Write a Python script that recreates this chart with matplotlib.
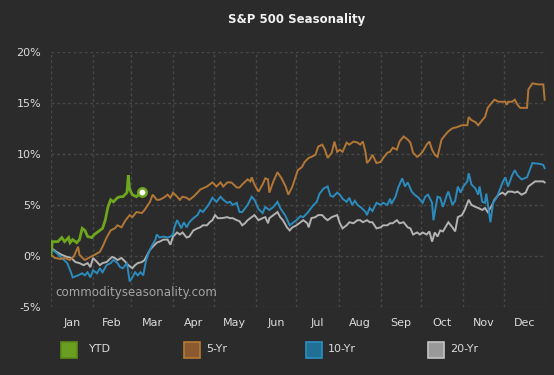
import matplotlib
matplotlib.use("Agg")
import matplotlib.pyplot as plt
from matplotlib.patches import Rectangle

# ---------------- data (day of year, % change) ----------------
months = ["Jan", "Feb", "Mar", "Apr", "May", "Jun", "Jul", "Aug", "Sep", "Oct", "Nov", "Dec"]
month_starts = [0, 31, 59, 90, 120, 151, 181, 212, 243, 273, 304, 334, 365]
yticks = [-5, 0, 5, 10, 15, 20]

ytd_days = [0, 1, 5, 8, 10, 13, 14, 16, 19, 21, 23, 25, 27, 30, 32, 35, 38, 40, 42, 44,
            46, 49, 51, 53, 56, 57, 58, 60, 63, 66, 67]
ytd_vals = [0.1, 1.4, 1.4, 1.8, 1.4, 1.8, 1.3, 1.6, 1.3, 1.6, 2.7, 2.5, 1.9, 1.8, 2.1, 2.4, 2.7, 3.5, 4.8, 5.5,
            5.3, 5.7, 5.8, 5.8, 6.2, 7.9, 6.5, 6.0, 5.8, 6.2, 6.3]

y5_days = [0, 3, 7, 10, 14, 17, 20, 21, 25, 29, 32, 36, 38, 41, 44, 47, 49, 52, 55, 58,
           60, 63, 67, 69, 73, 75, 78, 80, 83, 86, 88, 90, 93, 95, 97, 100, 102, 105, 108, 110,
           115, 119, 122, 125, 127, 130, 133, 137, 139, 141, 145, 147, 148, 150, 153, 156, 158, 160, 161, 164,
           167, 170, 173, 175, 178, 180, 182, 185, 187, 190, 192, 195, 197, 200, 202, 204, 207, 209, 211, 213,
           215, 218, 220, 223, 226, 228, 230, 232, 233, 235, 237, 240, 243, 245, 248, 250, 252, 255, 257, 260,
           263, 265, 267, 270, 272, 274, 277, 279, 281, 283, 285, 288, 291, 293, 296, 299, 303, 307, 308, 310,
           313, 315, 318, 320, 322, 325, 327, 330, 333, 335, 336, 337, 340, 342, 344, 346, 351, 352, 355, 359,
           363, 364]
y5_vals = [0.1, -0.2, -0.3, -0.2, -0.4, 0.0, 0.9, 0.1, -0.4, -0.1, 0.1, 0.4, 0.9, 1.8, 2.5, 2.7, 3.0, 2.8, 3.5, 4.0,
           3.8, 4.3, 4.2, 4.5, 5.3, 6.0, 5.5, 5.5, 5.7, 6.0, 5.7, 6.2, 5.8, 5.5, 5.8, 5.7, 5.5, 5.8, 6.2, 6.5,
           6.8, 7.2, 6.8, 7.2, 6.8, 7.2, 7.2, 6.7, 6.7, 7.0, 7.5, 7.3, 7.7, 7.0, 6.3, 7.0, 7.6, 7.5, 6.2, 7.3,
           8.2, 7.6, 6.8, 6.0, 6.8, 7.6, 8.4, 8.7, 9.2, 9.6, 9.7, 9.9, 10.7, 10.9, 10.4, 9.6, 10.1, 11.2, 10.2, 10.4,
           10.2, 11.1, 10.9, 11.2, 11.1, 10.9, 11.2, 10.1, 9.1, 9.4, 9.9, 9.1, 9.2, 9.6, 10.1, 10.2, 10.6, 10.4, 11.2, 11.7,
           11.4, 11.1, 10.1, 9.7, 9.9, 10.2, 10.9, 11.2, 10.4, 9.9, 9.7, 11.4, 11.9, 12.2, 12.5, 12.6, 12.8, 12.8, 13.6, 13.3,
           13.1, 12.8, 13.3, 13.6, 14.5, 15.0, 15.3, 15.1, 15.1, 15.1, 14.8, 15.1, 15.1, 15.3, 14.8, 14.5, 14.5, 16.3, 16.9, 16.8,
           16.8, 15.3]

y10_days = [0, 4, 8, 12, 15, 16, 20, 23, 25, 27, 29, 31, 34, 36, 38, 41, 44, 46, 49, 51,
            53, 56, 58, 60, 62, 64, 66, 68, 70, 72, 74, 77, 78, 80, 83, 86, 88, 90, 91, 93,
            95, 96, 98, 100, 102, 105, 108, 110, 112, 115, 117, 119, 122, 125, 127, 130, 132, 134, 137, 139,
            141, 145, 148, 150, 153, 156, 158, 161, 164, 167, 169, 173, 176, 178, 181, 184, 186, 189, 193, 196,
            198, 201, 204, 206, 208, 211, 213, 215, 218, 220, 222, 224, 226, 229, 232, 233, 235, 237, 240, 243,
            245, 248, 250, 251, 254, 256, 259, 261, 263, 266, 268, 271, 274, 276, 278, 281, 282, 285, 287, 289,
            292, 293, 296, 298, 300, 302, 304, 307, 308, 310, 313, 315, 316, 318, 320, 321, 324, 326, 329, 331,
            333, 335, 337, 340, 342, 344, 347, 351, 355, 361, 363, 364]
y10_vals = [0.7, 0.3, -0.2, -0.7, -1.7, -2.1, -1.9, -1.7, -1.9, -1.6, -2.1, -1.4, -1.7, -1.2, -1.6, -0.9, -0.7, -0.4, -0.7, -1.1,
            -1.2, -0.7, -2.5, -2.1, -1.6, -1.9, -1.6, -1.9, -0.5, 0.3, 0.9, 1.6, 2.1, 1.8, 1.9, 1.8, 1.9, 2.1, 2.8, 3.5,
            3.0, 2.7, 3.3, 2.8, 3.3, 3.7, 4.0, 4.5, 4.3, 4.8, 5.2, 5.7, 5.3, 5.8, 5.5, 5.2, 5.3, 5.0, 5.2, 4.3,
            4.3, 5.0, 5.8, 5.5, 4.6, 4.2, 4.8, 4.5, 4.8, 5.3, 4.7, 3.9, 3.0, 3.2, 3.5, 3.9, 3.8, 4.2, 4.9, 5.3,
            6.1, 6.6, 6.8, 5.9, 5.8, 6.2, 6.0, 5.6, 5.3, 5.7, 5.0, 5.4, 5.0, 4.7, 4.3, 4.0, 4.7, 4.4, 5.2, 5.0,
            5.2, 5.0, 5.6, 5.1, 5.8, 6.7, 7.6, 6.8, 7.2, 6.3, 6.0, 5.7, 5.2, 5.8, 6.0, 5.2, 3.5, 5.8, 5.7, 4.8,
            6.0, 6.3, 5.0, 5.4, 6.8, 6.2, 6.8, 7.3, 8.1, 7.0, 6.6, 6.0, 6.8, 5.3, 5.2, 6.1, 3.3, 5.2, 5.8, 6.5,
            7.2, 7.7, 6.8, 7.9, 8.4, 7.9, 7.5, 7.7, 9.1, 9.0, 8.9, 8.6]

y20_days = [0, 4, 8, 12, 15, 18, 21, 24, 27, 29, 31, 34, 36, 38, 41, 45, 47, 49, 52, 55,
            57, 60, 62, 64, 67, 69, 71, 73, 75, 78, 80, 83, 86, 88, 90, 93, 95, 97, 100, 102,
            105, 108, 110, 112, 115, 117, 119, 121, 123, 126, 130, 132, 134, 137, 139, 141, 143, 145, 148, 150,
            153, 156, 158, 160, 161, 164, 167, 169, 171, 174, 176, 178, 181, 184, 186, 189, 190, 192, 195, 197,
            200, 202, 204, 207, 209, 211, 213, 215, 218, 220, 223, 226, 228, 230, 233, 235, 237, 240, 243, 245,
            248, 250, 252, 255, 257, 260, 263, 265, 267, 270, 272, 274, 277, 279, 281, 283, 285, 287, 289, 293,
            296, 298, 300, 303, 305, 308, 310, 313, 315, 318, 320, 322, 325, 327, 330, 333, 335, 337, 340, 342,
            344, 347, 350, 352, 357, 363, 364]
y20_vals = [0.8, 0.4, 0.1, -0.1, -0.2, -0.6, -0.7, -0.9, -0.7, -1.1, -0.2, -0.6, -0.9, -0.7, -0.6, -0.1, -0.2, -0.4, -0.2, -0.6,
            -0.9, -1.2, -0.9, -0.7, -0.6, -0.4, 0.1, 0.6, 0.9, 1.3, 1.4, 1.6, 1.6, 1.1, 1.9, 2.3, 2.1, 2.3, 1.8, 1.9,
            2.5, 2.7, 2.8, 3.0, 3.0, 3.3, 3.5, 4.0, 3.7, 3.7, 3.8, 3.7, 3.7, 3.5, 3.4, 3.0, 3.2, 3.5, 3.8, 4.0,
            3.5, 3.7, 3.8, 3.2, 3.7, 4.0, 4.3, 3.8, 3.5, 2.8, 2.5, 2.8, 3.0, 3.3, 3.5, 3.2, 2.8, 3.7, 3.8, 4.0,
            4.0, 3.7, 3.5, 3.8, 3.9, 4.0, 3.2, 2.7, 3.0, 3.3, 3.2, 3.5, 3.5, 3.3, 3.5, 3.3, 3.3, 2.7, 2.8, 3.0,
            3.0, 3.2, 3.2, 3.5, 3.2, 3.3, 2.8, 2.7, 2.1, 2.3, 2.1, 2.3, 2.1, 2.4, 1.4, 2.3, 1.9, 2.5, 2.4, 3.3,
            2.8, 2.4, 3.8, 4.0, 4.5, 5.5, 5.0, 4.8, 4.7, 4.5, 4.7, 4.3, 4.9, 5.5, 6.0, 6.2, 6.0, 6.3, 6.3, 6.2,
            6.3, 6.0, 6.2, 6.8, 7.3, 7.3, 7.2]

series = [
    ("YTD", ytd_days, ytd_vals, "#6ea61f", "#6a9e20", "#5c8c1a", 2.0),
    ("5-Yr", y5_days, y5_vals, "#b27736", "#8a5a30", "#b87a38", 1.4),
    ("10-Yr", y10_days, y10_vals, "#2b8bbd", "#216f94", "#2a8fc4", 1.4),
    ("20-Yr", y20_days, y20_vals, "#b3b3b3", "#999999", "#c4c4c4", 1.4),
]

BG = "#2b2b2b"
GRID = "#474747"
TXT = "#dcdcdc"

W, H = 554, 375
fig = plt.figure(figsize=(W / 100, H / 100), dpi=100, facecolor=BG)
ax = fig.add_axes([51 / W, (H - 307) / H, (546 - 51) / W, (307 - 51.7) / H])
ax.set_facecolor(BG)

# grid
for v in yticks:
    ax.axhline(v, color=GRID, lw=1.0, ls=(0, (2, 2)), zorder=0)
for d in month_starts:
    ax.axvline(d, color=GRID, lw=1.0, ls=(0, (2, 2)), zorder=0)

# watermark
ax.text(3, -3.6, "commodityseasonality.com", color="#a3a3a3", fontsize=8.6,
        ha="left", va="center", zorder=1)

# lines (draw in reverse so YTD is on top)
for name, dd, vv, col, _, _, lw in reversed(series):
    ax.plot(dd, vv, color=col, lw=lw, solid_joinstyle="miter", zorder=3 if name == "YTD" else 2)

# YTD end marker
ax.plot(ytd_days[-1], ytd_vals[-1], marker="o", ms=6, mfc="white", mec="#6ea61f", mew=1.8, zorder=4)

ax.set_xlim(month_starts[0], month_starts[-1])
ax.set_ylim(yticks[0], yticks[-1])
ax.set_yticks(yticks)
ax.set_yticklabels([f"{v}%" for v in yticks])
mids = [(month_starts[i] + month_starts[i + 1]) / 2 for i in range(12)]
ax.set_xticks(mids)
ax.set_xticklabels(months)
ax.tick_params(axis="both", length=0, colors=TXT, labelsize=8)
ax.tick_params(axis="y", pad=7)
ax.tick_params(axis="x", pad=8)
for s in ax.spines.values():
    s.set_visible(False)

# title
fig.text(297 / W, 1 - 20 / H, "S&P 500 Seasonality", ha="center", va="center",
         color="#f0f0f0", fontsize=8.5, fontweight="bold")

# legend
box_x = [61, 184, 306, 428]
txt_x = [89, 206, 328, 450]
for (name, _, _, col, face, edge, _), bx, tx in zip(series, box_x, txt_x):
    fig.patches.append(Rectangle((bx / W, (H - 358) / H), 16 / W, 16 / H,
                                 transform=fig.transFigure, facecolor=face,
                                 edgecolor=edge, lw=1.2))
    fig.text(tx / W, 1 - 349.5 / H, name, color=TXT, fontsize=8, ha="left", va="center")

fig.savefig("out.png", dpi=100, facecolor=BG)
